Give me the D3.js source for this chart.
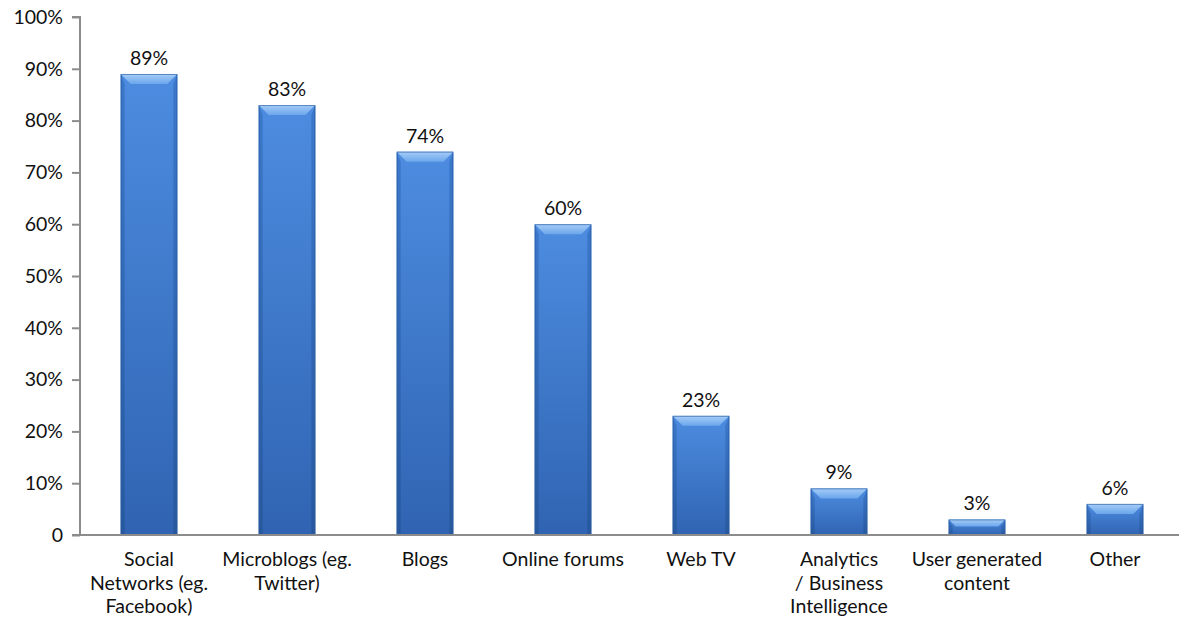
<!DOCTYPE html>
<html>
<head>
<meta charset="utf-8">
<script src="https://cdn.jsdelivr.net/npm/d3@7"></script>
<style>
  html, body { margin: 0; padding: 0; background: #fff; }
  svg { display: block; font-family: Lato, "Open Sans", sans-serif; }
</style>
</head>
<body>
<svg id="chart" width="1179" height="623"></svg>
<script>
// Channels in use (percent of respondents)
const categories = [
  ["Social", "Networks (eg.", "Facebook)"],
  ["Microblogs (eg.", "Twitter)"],
  ["Blogs"],
  ["Online forums"],
  ["Web TV"],
  ["Analytics", "/ Business", "Intelligence"],
  ["User generated", "content"],
  ["Other"]
];
const values = [89, 83, 74, 60, 23, 9, 3, 6];
const yTicks = [0, 10, 20, 30, 40, 50, 60, 70, 80, 90, 100];
const yTickLabels = ["0", "10%", "20%", "30%", "40%", "50%", "60%", "70%", "80%", "90%", "100%"];

const svg = d3.select("#chart");
const W = 1179, H = 623;
const plotLeft = 80, plotTop = 17, plotBottom = 535, plotRight = 1184;
const fontSize = "19.5px";
const fontFamily = "Lato, 'Open Sans', sans-serif";

const x = d3.scaleBand()
  .domain(d3.range(values.length))
  .range([plotLeft, plotRight])
  .paddingInner(0.59)
  .paddingOuter(0.295);

const y = d3.scaleLinear().domain([0, 100]).range([plotBottom, plotTop]);

// Gradients for the bevelled bars
const defs = svg.append("defs");
const gFace = defs.append("linearGradient").attr("id", "face")
  .attr("x1", 0).attr("y1", 0).attr("x2", 0).attr("y2", 1);
gFace.append("stop").attr("offset", "0%").attr("stop-color", "#4d8ce0");
gFace.append("stop").attr("offset", "100%").attr("stop-color", "#3064b2");

const gSide = defs.append("linearGradient").attr("id", "side")
  .attr("x1", 0).attr("y1", 0).attr("x2", 0).attr("y2", 1);
gSide.append("stop").attr("offset", "0%").attr("stop-color", "#3a76c8");
gSide.append("stop").attr("offset", "100%").attr("stop-color", "#26579c");

const gTop = defs.append("linearGradient").attr("id", "topBevel")
  .attr("x1", 0).attr("y1", 0).attr("x2", 0).attr("y2", 1);
gTop.append("stop").attr("offset", "0%").attr("stop-color", "#a6cdf7");
gTop.append("stop").attr("offset", "100%").attr("stop-color", "#6ba6ec");

// Y axis
const yAxis = d3.axisLeft(y)
  .tickValues(yTicks)
  .tickFormat((d, i) => yTickLabels[i])
  .tickSize(8)
  .tickPadding(9);

const yg = svg.append("g").attr("transform", `translate(${plotLeft},0)`).call(yAxis);
yg.select(".domain").attr("stroke", "#8c8c8c").attr("stroke-width", 2)
  .attr("d", `M-8,${plotTop}H0V${plotBottom}`);
yg.selectAll(".tick line").attr("stroke", "#8c8c8c").attr("stroke-width", 2);
yg.selectAll(".tick text").attr("fill", "#111").style("font-size", fontSize)
  .style("font-family", fontFamily);

// Bars
const bars = svg.append("g").selectAll("g.bar")
  .data(values)
  .join("g").attr("class", "bar");

bars.each(function (v, i) {
  const g = d3.select(this);
  const x0 = x(i), w = x.bandwidth();
  const y0 = y(v), y1 = y(0);
  const h = y1 - y0;
  const b = Math.min(10, h / 2.2);  // bevel depth
  const s = 4;                      // side bevel width
  const c = b;                      // diagonal inset of the top bevel
  g.append("rect").attr("x", x0).attr("y", y0).attr("width", w).attr("height", h)
    .attr("fill", "url(#face)");
  // side strips
  g.append("polygon")
    .attr("points", `${x0},${y0} ${x0 + s},${y0 + b} ${x0 + s},${y1} ${x0},${y1}`)
    .attr("fill", "url(#side)").attr("opacity", 0.9);
  g.append("polygon")
    .attr("points", `${x0 + w},${y0} ${x0 + w - s},${y0 + b} ${x0 + w - s},${y1} ${x0 + w},${y1}`)
    .attr("fill", "url(#side)").attr("opacity", 0.9);
  // top bevel
  g.append("polygon")
    .attr("points", `${x0},${y0} ${x0 + w},${y0} ${x0 + w - c},${y0 + b} ${x0 + c},${y0 + b}`)
    .attr("fill", "url(#topBevel)");
  // outline
  g.append("rect").attr("x", x0 + 0.5).attr("y", y0 + 0.5).attr("width", w - 1).attr("height", h - 1)
    .attr("fill", "none").attr("stroke", "#2a5a9e").attr("stroke-width", 1).attr("opacity", 0.6);
});

// Value labels
svg.append("g").selectAll("text")
  .data(values)
  .join("text")
  .attr("x", (d, i) => x(i) + x.bandwidth() / 2)
  .attr("y", d => y(d) - 9)
  .attr("text-anchor", "middle")
  .attr("fill", "#111")
  .style("font-size", fontSize)
  .text(d => d + "%");

// X axis baseline
svg.append("line")
  .attr("x1", plotLeft - 8).attr("x2", W)
  .attr("y1", plotBottom).attr("y2", plotBottom)
  .attr("stroke", "#8c8c8c").attr("stroke-width", 2);

// Category labels, one text element per line
const catGroups = svg.append("g").selectAll("g")
  .data(categories)
  .join("g")
  .attr("transform", (d, i) => `translate(${x(i) + x.bandwidth() / 2},0)`);
catGroups.selectAll("text")
  .data(d => d)
  .join("text")
  .attr("x", 0)
  .attr("y", (d, j) => 566 + j * 23.5)
  .attr("text-anchor", "middle")
  .attr("fill", "#111")
  .style("font-size", fontSize)
  .text(d => d);
</script>
</body>
</html>
